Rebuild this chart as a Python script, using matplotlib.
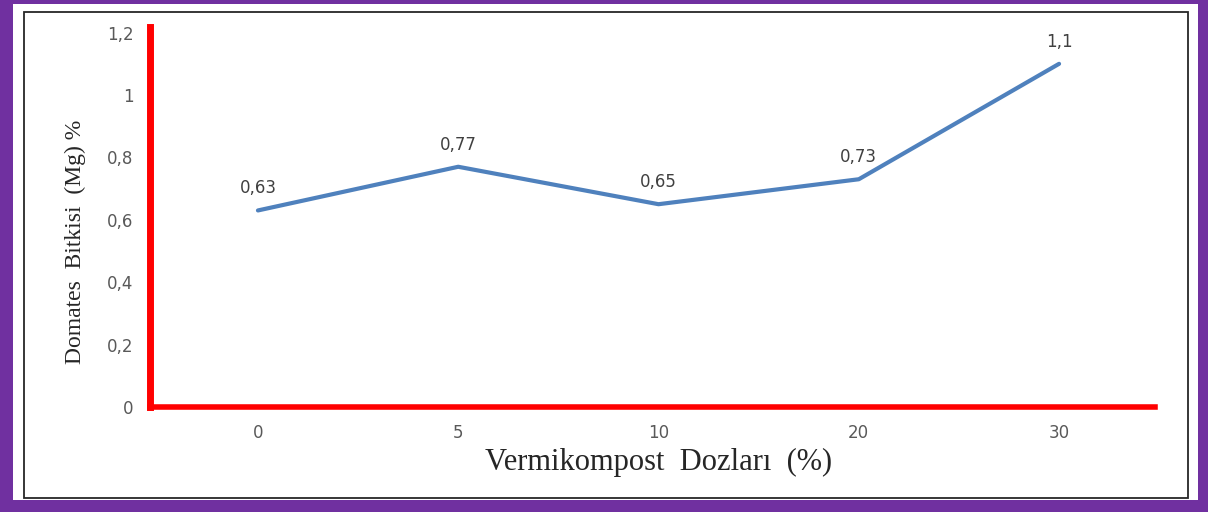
import matplotlib.pyplot as plt
from matplotlib.patches import Rectangle

# Veriler
doz_etiketleri = ["0", "5", "10", "20", "30"]
mg_degerleri = [0.63, 0.77, 0.65, 0.73, 1.1]
mg_etiketleri = ["0,63", "0,77", "0,65", "0,73", "1,1"]
y_tikleri = [0, 0.2, 0.4, 0.6, 0.8, 1.0, 1.2]
y_tik_etiketleri = ["0", "0,2", "0,4", "0,6", "0,8", "1", "1,2"]

W, H = 1208, 512
fig = plt.figure(figsize=(W / 100, H / 100), dpi=100, facecolor="#7030A0")

# beyaz zemin ve ince siyah cerceve
fig.patches.append(Rectangle((13 / W, 1 - 500 / H), (1198 - 13) / W, (500 - 4) / H,
                             transform=fig.transFigure, facecolor="white", edgecolor="none", zorder=0))
fig.patches.append(Rectangle((24 / W, 1 - 498 / H), (1188 - 24) / W, (498 - 12) / H,
                             transform=fig.transFigure, facecolor="none", edgecolor="#262626",
                             linewidth=1.3, zorder=1))

ax = fig.add_axes([150 / W, 1 - 407 / H, (1155 - 150) / W, (407 - 27) / H])
ax.set_zorder(5)
ax.patch.set_alpha(0)

x = list(range(len(doz_etiketleri)))
ax.plot(x, mg_degerleri, color="#4F81BD", linewidth=3, solid_capstyle="round", zorder=3)

for xi, yi, lab in zip(x, mg_degerleri, mg_etiketleri):
    ax.annotate(lab, (xi, yi), xytext=(0, 16), textcoords="offset points",
                ha="center", va="center", fontsize=12, color="#404040", family="DejaVu Sans")

ax.set_xlim(-0.539, 4.479)
ax.set_ylim(0, 1.218)
ax.set_xticks(x)
ax.set_xticklabels(doz_etiketleri)
ax.set_yticks(y_tikleri)
ax.set_yticklabels(y_tik_etiketleri)
ax.tick_params(axis="both", length=0, labelsize=12, labelcolor="#595959")
ax.tick_params(axis="y", pad=12)
ax.tick_params(axis="x", pad=12)

for side in ["top", "right"]:
    ax.spines[side].set_visible(False)
ax.spines["left"].set_color("red")
ax.spines["left"].set_linewidth(5)
ax.spines["bottom"].set_color("red")
ax.spines["bottom"].set_linewidth(4)
ax.spines["bottom"].set_capstyle("projecting")

fig.text(75 / W, 1 - 242 / H, "Domates  Bitkisi  (Mg) %", rotation=90, ha="center", va="center",
         fontsize=17, family="Liberation Serif", color="#262626", zorder=6)
fig.text(659 / W, 1 - 462 / H, "Vermikompost  Dozları  (%)", ha="center", va="center",
         fontsize=22, family="Liberation Serif", color="#262626", zorder=6)

fig.savefig("out.png", dpi=100, facecolor=fig.get_facecolor())
